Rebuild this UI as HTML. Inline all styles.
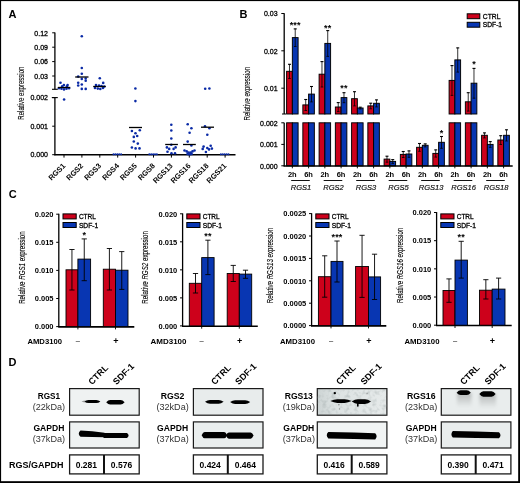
<!DOCTYPE html>
<html><head><meta charset="utf-8"><style>
html,body{margin:0;padding:0;background:#fff;}
svg{display:block;font-family:'Liberation Sans', sans-serif;filter:blur(0.25px);}
</style></head><body>
<svg width="520" height="483" viewBox="0 0 520 483">
<rect x="0" y="0" width="520" height="483" fill="#fff"/>
<text x="8.60" y="17.60" font-size="11" font-weight="bold" font-style="normal" text-anchor="start" fill="#000" >A</text>
<text x="239.60" y="17.60" font-size="11" font-weight="bold" font-style="normal" text-anchor="start" fill="#000" >B</text>
<text x="8.80" y="198.20" font-size="11" font-weight="bold" font-style="normal" text-anchor="start" fill="#000" >C</text>
<text x="8.60" y="366.40" font-size="11" font-weight="bold" font-style="normal" text-anchor="start" fill="#000" >D</text>
<line x1="54.90" y1="32.60" x2="54.90" y2="89.30" stroke="#000" stroke-width="1.3" />
<line x1="52.00" y1="89.30" x2="57.80" y2="89.30" stroke="#000" stroke-width="1.1" />
<line x1="52.20" y1="32.80" x2="54.90" y2="32.80" stroke="#000" stroke-width="1.0" />
<text x="48.00" y="35.55" font-size="7.8" font-weight="normal" font-style="normal" text-anchor="end" fill="#000" stroke="#000" stroke-width="0.3" textLength="13.66" lengthAdjust="spacingAndGlyphs">0.12</text>
<line x1="52.20" y1="47.20" x2="54.90" y2="47.20" stroke="#000" stroke-width="1.0" />
<text x="48.00" y="49.95" font-size="7.8" font-weight="normal" font-style="normal" text-anchor="end" fill="#000" stroke="#000" stroke-width="0.3" textLength="13.66" lengthAdjust="spacingAndGlyphs">0.09</text>
<line x1="52.20" y1="61.60" x2="54.90" y2="61.60" stroke="#000" stroke-width="1.0" />
<text x="48.00" y="64.35" font-size="7.8" font-weight="normal" font-style="normal" text-anchor="end" fill="#000" stroke="#000" stroke-width="0.3" textLength="13.66" lengthAdjust="spacingAndGlyphs">0.06</text>
<line x1="52.20" y1="76.00" x2="54.90" y2="76.00" stroke="#000" stroke-width="1.0" />
<text x="48.00" y="78.75" font-size="7.8" font-weight="normal" font-style="normal" text-anchor="end" fill="#000" stroke="#000" stroke-width="0.3" textLength="13.66" lengthAdjust="spacingAndGlyphs">0.03</text>
<line x1="54.90" y1="97.60" x2="54.90" y2="155.20" stroke="#000" stroke-width="1.3" />
<line x1="51.80" y1="97.60" x2="57.80" y2="97.60" stroke="#000" stroke-width="1.1" />
<line x1="52.20" y1="97.60" x2="54.90" y2="97.60" stroke="#000" stroke-width="1.0" />
<text x="48.00" y="100.35" font-size="7.8" font-weight="normal" font-style="normal" text-anchor="end" fill="#000" stroke="#000" stroke-width="0.3" textLength="17.56" lengthAdjust="spacingAndGlyphs">0.002</text>
<line x1="52.20" y1="126.20" x2="54.90" y2="126.20" stroke="#000" stroke-width="1.0" />
<text x="48.00" y="128.95" font-size="7.8" font-weight="normal" font-style="normal" text-anchor="end" fill="#000" stroke="#000" stroke-width="0.3" textLength="17.56" lengthAdjust="spacingAndGlyphs">0.001</text>
<line x1="52.20" y1="154.70" x2="54.90" y2="154.70" stroke="#000" stroke-width="1.0" />
<text x="48.00" y="157.45" font-size="7.8" font-weight="normal" font-style="normal" text-anchor="end" fill="#000" stroke="#000" stroke-width="0.3" textLength="17.56" lengthAdjust="spacingAndGlyphs">0.000</text>
<line x1="54.30" y1="154.80" x2="235.50" y2="154.80" stroke="#000" stroke-width="1.4" />
<line x1="64.00" y1="154.70" x2="64.00" y2="157.60" stroke="#000" stroke-width="1.0" />
<text x="65.90" y="166.40" font-size="7.5" font-weight="bold" font-style="normal" text-anchor="end" fill="#000" transform="rotate(-45 65.90 166.4)">RGS1</text>
<line x1="81.90" y1="154.70" x2="81.90" y2="157.60" stroke="#000" stroke-width="1.0" />
<text x="83.80" y="166.40" font-size="7.5" font-weight="bold" font-style="normal" text-anchor="end" fill="#000" transform="rotate(-45 83.80 166.4)">RGS2</text>
<line x1="99.80" y1="154.70" x2="99.80" y2="157.60" stroke="#000" stroke-width="1.0" />
<text x="101.70" y="166.40" font-size="7.5" font-weight="bold" font-style="normal" text-anchor="end" fill="#000" transform="rotate(-45 101.70 166.4)">RGS3</text>
<line x1="117.70" y1="154.70" x2="117.70" y2="157.60" stroke="#000" stroke-width="1.0" />
<text x="119.60" y="166.40" font-size="7.5" font-weight="bold" font-style="normal" text-anchor="end" fill="#000" transform="rotate(-45 119.60 166.4)">RGS4</text>
<line x1="135.60" y1="154.70" x2="135.60" y2="157.60" stroke="#000" stroke-width="1.0" />
<text x="137.50" y="166.40" font-size="7.5" font-weight="bold" font-style="normal" text-anchor="end" fill="#000" transform="rotate(-45 137.50 166.4)">RGS5</text>
<line x1="153.50" y1="154.70" x2="153.50" y2="157.60" stroke="#000" stroke-width="1.0" />
<text x="155.40" y="166.40" font-size="7.5" font-weight="bold" font-style="normal" text-anchor="end" fill="#000" transform="rotate(-45 155.40 166.4)">RGS8</text>
<line x1="171.40" y1="154.70" x2="171.40" y2="157.60" stroke="#000" stroke-width="1.0" />
<text x="173.30" y="166.40" font-size="7.5" font-weight="bold" font-style="normal" text-anchor="end" fill="#000" transform="rotate(-45 173.30 166.4)">RGS13</text>
<line x1="189.30" y1="154.70" x2="189.30" y2="157.60" stroke="#000" stroke-width="1.0" />
<text x="191.20" y="166.40" font-size="7.5" font-weight="bold" font-style="normal" text-anchor="end" fill="#000" transform="rotate(-45 191.20 166.4)">RGS16</text>
<line x1="207.20" y1="154.70" x2="207.20" y2="157.60" stroke="#000" stroke-width="1.0" />
<text x="209.10" y="166.40" font-size="7.5" font-weight="bold" font-style="normal" text-anchor="end" fill="#000" transform="rotate(-45 209.10 166.4)">RGS18</text>
<line x1="225.10" y1="154.70" x2="225.10" y2="157.60" stroke="#000" stroke-width="1.0" />
<text x="227.00" y="166.40" font-size="7.5" font-weight="bold" font-style="normal" text-anchor="end" fill="#000" transform="rotate(-45 227.00 166.4)">RGS21</text>
<text x="0.00" y="0.00" font-size="8.2" font-weight="normal" font-style="normal" text-anchor="middle" fill="#000" transform="translate(23.6 93.1) rotate(-90)" textLength="53.2" lengthAdjust="spacingAndGlyphs" stroke="#000" stroke-width="0.1">Relative expression</text>
<circle cx="60.50" cy="82.80" r="1.3" fill="#0a2aa6"/>
<circle cx="63.90" cy="85.00" r="1.3" fill="#0a2aa6"/>
<circle cx="67.60" cy="85.00" r="1.3" fill="#0a2aa6"/>
<circle cx="62.20" cy="86.20" r="1.3" fill="#0a2aa6"/>
<circle cx="66.90" cy="86.20" r="1.3" fill="#0a2aa6"/>
<circle cx="59.00" cy="88.30" r="1.3" fill="#0a2aa6"/>
<circle cx="61.50" cy="88.80" r="1.3" fill="#0a2aa6"/>
<circle cx="64.00" cy="89.40" r="1.3" fill="#0a2aa6"/>
<circle cx="66.50" cy="88.80" r="1.3" fill="#0a2aa6"/>
<circle cx="69.00" cy="88.30" r="1.3" fill="#0a2aa6"/>
<circle cx="64.10" cy="99.50" r="1.3" fill="#0a2aa6"/>
<circle cx="81.80" cy="36.30" r="1.3" fill="#0a2aa6"/>
<circle cx="81.80" cy="68.00" r="1.3" fill="#0a2aa6"/>
<circle cx="81.80" cy="73.70" r="1.3" fill="#0a2aa6"/>
<circle cx="78.20" cy="76.60" r="1.3" fill="#0a2aa6"/>
<circle cx="81.80" cy="78.90" r="1.3" fill="#0a2aa6"/>
<circle cx="85.70" cy="78.50" r="1.3" fill="#0a2aa6"/>
<circle cx="85.70" cy="80.80" r="1.3" fill="#0a2aa6"/>
<circle cx="78.20" cy="82.80" r="1.3" fill="#0a2aa6"/>
<circle cx="78.20" cy="85.50" r="1.3" fill="#0a2aa6"/>
<circle cx="81.80" cy="84.50" r="1.3" fill="#0a2aa6"/>
<circle cx="81.80" cy="88.90" r="1.3" fill="#0a2aa6"/>
<circle cx="85.70" cy="88.90" r="1.3" fill="#0a2aa6"/>
<circle cx="99.80" cy="78.20" r="1.3" fill="#0a2aa6"/>
<circle cx="103.20" cy="82.90" r="1.3" fill="#0a2aa6"/>
<circle cx="96.00" cy="85.00" r="1.3" fill="#0a2aa6"/>
<circle cx="99.00" cy="85.50" r="1.3" fill="#0a2aa6"/>
<circle cx="101.50" cy="86.00" r="1.3" fill="#0a2aa6"/>
<circle cx="95.00" cy="88.00" r="1.3" fill="#0a2aa6"/>
<circle cx="97.80" cy="88.60" r="1.3" fill="#0a2aa6"/>
<circle cx="100.30" cy="89.00" r="1.3" fill="#0a2aa6"/>
<circle cx="103.00" cy="88.00" r="1.3" fill="#0a2aa6"/>
<circle cx="104.30" cy="86.50" r="1.3" fill="#0a2aa6"/>
<circle cx="135.40" cy="88.50" r="1.3" fill="#0a2aa6"/>
<circle cx="135.40" cy="101.10" r="1.3" fill="#0a2aa6"/>
<circle cx="131.90" cy="131.00" r="1.3" fill="#0a2aa6"/>
<circle cx="139.80" cy="130.20" r="1.3" fill="#0a2aa6"/>
<circle cx="135.50" cy="133.20" r="1.3" fill="#0a2aa6"/>
<circle cx="133.80" cy="136.90" r="1.3" fill="#0a2aa6"/>
<circle cx="137.20" cy="136.00" r="1.3" fill="#0a2aa6"/>
<circle cx="133.80" cy="141.50" r="1.3" fill="#0a2aa6"/>
<circle cx="137.80" cy="143.60" r="1.3" fill="#0a2aa6"/>
<circle cx="131.90" cy="147.50" r="1.3" fill="#0a2aa6"/>
<circle cx="135.60" cy="148.40" r="1.3" fill="#0a2aa6"/>
<circle cx="139.50" cy="148.40" r="1.3" fill="#0a2aa6"/>
<circle cx="171.30" cy="124.70" r="1.3" fill="#0a2aa6"/>
<circle cx="171.30" cy="130.50" r="1.3" fill="#0a2aa6"/>
<circle cx="171.30" cy="138.50" r="1.3" fill="#0a2aa6"/>
<circle cx="171.30" cy="144.80" r="1.3" fill="#0a2aa6"/>
<circle cx="166.90" cy="147.40" r="1.3" fill="#0a2aa6"/>
<circle cx="175.60" cy="147.40" r="1.3" fill="#0a2aa6"/>
<circle cx="169.20" cy="148.90" r="1.3" fill="#0a2aa6"/>
<circle cx="173.60" cy="148.90" r="1.3" fill="#0a2aa6"/>
<circle cx="167.50" cy="151.70" r="1.3" fill="#0a2aa6"/>
<circle cx="171.50" cy="153.20" r="1.3" fill="#0a2aa6"/>
<circle cx="175.00" cy="153.20" r="1.3" fill="#0a2aa6"/>
<circle cx="187.70" cy="124.30" r="1.3" fill="#0a2aa6"/>
<circle cx="191.40" cy="128.20" r="1.3" fill="#0a2aa6"/>
<circle cx="189.60" cy="132.80" r="1.3" fill="#0a2aa6"/>
<circle cx="187.70" cy="141.60" r="1.3" fill="#0a2aa6"/>
<circle cx="191.40" cy="145.50" r="1.3" fill="#0a2aa6"/>
<circle cx="184.50" cy="150.50" r="1.3" fill="#0a2aa6"/>
<circle cx="186.70" cy="151.40" r="1.3" fill="#0a2aa6"/>
<circle cx="188.60" cy="152.60" r="1.3" fill="#0a2aa6"/>
<circle cx="190.60" cy="152.60" r="1.3" fill="#0a2aa6"/>
<circle cx="192.50" cy="151.40" r="1.3" fill="#0a2aa6"/>
<circle cx="194.50" cy="150.50" r="1.3" fill="#0a2aa6"/>
<circle cx="189.60" cy="154.40" r="1.3" fill="#0a2aa6"/>
<circle cx="187.60" cy="153.90" r="1.3" fill="#0a2aa6"/>
<circle cx="191.60" cy="153.90" r="1.3" fill="#0a2aa6"/>
<circle cx="205.20" cy="88.80" r="1.3" fill="#0a2aa6"/>
<circle cx="209.40" cy="88.50" r="1.3" fill="#0a2aa6"/>
<circle cx="205.00" cy="126.30" r="1.3" fill="#0a2aa6"/>
<circle cx="209.40" cy="128.20" r="1.3" fill="#0a2aa6"/>
<circle cx="207.30" cy="134.70" r="1.3" fill="#0a2aa6"/>
<circle cx="203.60" cy="146.60" r="1.3" fill="#0a2aa6"/>
<circle cx="210.70" cy="145.70" r="1.3" fill="#0a2aa6"/>
<circle cx="202.70" cy="148.90" r="1.3" fill="#0a2aa6"/>
<circle cx="207.30" cy="148.00" r="1.3" fill="#0a2aa6"/>
<circle cx="209.00" cy="149.40" r="1.3" fill="#0a2aa6"/>
<circle cx="211.90" cy="148.60" r="1.3" fill="#0a2aa6"/>
<circle cx="205.90" cy="152.00" r="1.3" fill="#0a2aa6"/>
<circle cx="113.50" cy="154.30" r="1.0" fill="#0a2aa6"/>
<circle cx="115.40" cy="154.30" r="1.0" fill="#0a2aa6"/>
<circle cx="117.30" cy="154.30" r="1.0" fill="#0a2aa6"/>
<circle cx="119.20" cy="154.30" r="1.0" fill="#0a2aa6"/>
<circle cx="121.10" cy="154.30" r="1.0" fill="#0a2aa6"/>
<circle cx="149.30" cy="154.30" r="1.0" fill="#0a2aa6"/>
<circle cx="151.20" cy="154.30" r="1.0" fill="#0a2aa6"/>
<circle cx="153.10" cy="154.30" r="1.0" fill="#0a2aa6"/>
<circle cx="155.00" cy="154.30" r="1.0" fill="#0a2aa6"/>
<circle cx="156.90" cy="154.30" r="1.0" fill="#0a2aa6"/>
<circle cx="220.90" cy="154.30" r="1.0" fill="#0a2aa6"/>
<circle cx="222.80" cy="154.30" r="1.0" fill="#0a2aa6"/>
<circle cx="224.70" cy="154.30" r="1.0" fill="#0a2aa6"/>
<circle cx="226.60" cy="154.30" r="1.0" fill="#0a2aa6"/>
<circle cx="228.50" cy="154.30" r="1.0" fill="#0a2aa6"/>
<line x1="57.80" y1="87.50" x2="70.30" y2="87.50" stroke="#000" stroke-width="1.3" />
<line x1="75.20" y1="77.00" x2="88.50" y2="77.00" stroke="#000" stroke-width="1.3" />
<line x1="93.20" y1="86.50" x2="105.80" y2="86.50" stroke="#000" stroke-width="1.3" />
<line x1="129.00" y1="127.50" x2="142.00" y2="127.50" stroke="#000" stroke-width="1.3" />
<line x1="165.20" y1="144.50" x2="177.90" y2="144.50" stroke="#000" stroke-width="1.3" />
<line x1="183.00" y1="144.50" x2="195.80" y2="144.50" stroke="#000" stroke-width="1.3" />
<line x1="201.00" y1="127.20" x2="214.00" y2="127.20" stroke="#000" stroke-width="1.3" />
<line x1="284.20" y1="13.30" x2="284.20" y2="114.00" stroke="#000" stroke-width="1.3" />
<line x1="282.00" y1="114.00" x2="286.00" y2="114.00" stroke="#000" stroke-width="1.0" />
<line x1="284.20" y1="122.80" x2="284.20" y2="166.30" stroke="#000" stroke-width="1.3" />
<line x1="281.30" y1="13.50" x2="284.20" y2="13.50" stroke="#000" stroke-width="1.0" />
<text x="277.60" y="16.25" font-size="7.8" font-weight="normal" font-style="normal" text-anchor="end" fill="#000" stroke="#000" stroke-width="0.3" textLength="13.66" lengthAdjust="spacingAndGlyphs">0.03</text>
<line x1="281.30" y1="50.80" x2="284.20" y2="50.80" stroke="#000" stroke-width="1.0" />
<text x="277.60" y="53.55" font-size="7.8" font-weight="normal" font-style="normal" text-anchor="end" fill="#000" stroke="#000" stroke-width="0.3" textLength="13.66" lengthAdjust="spacingAndGlyphs">0.02</text>
<line x1="281.30" y1="88.20" x2="284.20" y2="88.20" stroke="#000" stroke-width="1.0" />
<text x="277.60" y="90.95" font-size="7.8" font-weight="normal" font-style="normal" text-anchor="end" fill="#000" stroke="#000" stroke-width="0.3" textLength="13.66" lengthAdjust="spacingAndGlyphs">0.01</text>
<line x1="281.30" y1="122.80" x2="284.20" y2="122.80" stroke="#000" stroke-width="1.0" />
<text x="277.60" y="125.55" font-size="7.8" font-weight="normal" font-style="normal" text-anchor="end" fill="#000" stroke="#000" stroke-width="0.3" textLength="17.56" lengthAdjust="spacingAndGlyphs">0.002</text>
<line x1="281.30" y1="144.40" x2="284.20" y2="144.40" stroke="#000" stroke-width="1.0" />
<text x="277.60" y="147.15" font-size="7.8" font-weight="normal" font-style="normal" text-anchor="end" fill="#000" stroke="#000" stroke-width="0.3" textLength="17.56" lengthAdjust="spacingAndGlyphs">0.001</text>
<line x1="281.30" y1="165.80" x2="284.20" y2="165.80" stroke="#000" stroke-width="1.0" />
<text x="277.60" y="168.55" font-size="7.8" font-weight="normal" font-style="normal" text-anchor="end" fill="#000" stroke="#000" stroke-width="0.3" textLength="17.56" lengthAdjust="spacingAndGlyphs">0.000</text>
<text x="0.00" y="0.00" font-size="8.2" font-weight="normal" font-style="normal" text-anchor="middle" fill="#000" transform="translate(250.1 93.7) rotate(-90)" textLength="53.7" lengthAdjust="spacingAndGlyphs" stroke="#000" stroke-width="0.1">Relative expression</text>
<rect x="286.60" y="71.30" width="5.75" height="42.70" fill="#cd011b" stroke="#000" stroke-width="0.95" />
<rect x="286.60" y="122.80" width="5.75" height="43.00" fill="#cd011b" stroke="#000" stroke-width="0.95" />
<line x1="289.48" y1="64.10" x2="289.48" y2="78.50" stroke="#000" stroke-width="0.8" />
<line x1="287.98" y1="64.30" x2="290.98" y2="64.30" stroke="#000" stroke-width="1.1" />
<line x1="288.18" y1="78.50" x2="290.78" y2="78.50" stroke="#000" stroke-width="0.8" />
<rect x="292.35" y="37.60" width="5.75" height="76.40" fill="#0836b2" stroke="#000" stroke-width="0.95" />
<rect x="292.35" y="122.80" width="5.75" height="43.00" fill="#0836b2" stroke="#000" stroke-width="0.95" />
<line x1="295.23" y1="28.70" x2="295.23" y2="46.50" stroke="#000" stroke-width="0.8" />
<line x1="293.73" y1="28.90" x2="296.73" y2="28.90" stroke="#000" stroke-width="1.1" />
<line x1="293.93" y1="46.50" x2="296.53" y2="46.50" stroke="#000" stroke-width="0.8" />
<line x1="292.35" y1="165.80" x2="292.35" y2="168.30" stroke="#000" stroke-width="0.9" />
<text x="292.35" y="177.00" font-size="7.5" font-weight="bold" font-style="normal" text-anchor="middle" fill="#000" >2h</text>
<text x="295.23" y="28.00" font-size="9" font-weight="bold" font-style="normal" text-anchor="middle" fill="#000" letter-spacing="0.2">***</text>
<rect x="302.85" y="104.90" width="5.75" height="9.10" fill="#cd011b" stroke="#000" stroke-width="0.95" />
<rect x="302.85" y="122.80" width="5.75" height="43.00" fill="#cd011b" stroke="#000" stroke-width="0.95" />
<line x1="305.73" y1="99.30" x2="305.73" y2="110.50" stroke="#000" stroke-width="0.8" />
<line x1="304.23" y1="99.50" x2="307.23" y2="99.50" stroke="#000" stroke-width="1.1" />
<line x1="304.43" y1="110.50" x2="307.03" y2="110.50" stroke="#000" stroke-width="0.8" />
<rect x="308.60" y="94.10" width="5.75" height="19.90" fill="#0836b2" stroke="#000" stroke-width="0.95" />
<rect x="308.60" y="122.80" width="5.75" height="43.00" fill="#0836b2" stroke="#000" stroke-width="0.95" />
<line x1="311.48" y1="86.30" x2="311.48" y2="101.90" stroke="#000" stroke-width="0.8" />
<line x1="309.98" y1="86.50" x2="312.98" y2="86.50" stroke="#000" stroke-width="1.1" />
<line x1="310.18" y1="101.90" x2="312.78" y2="101.90" stroke="#000" stroke-width="0.8" />
<line x1="308.60" y1="165.80" x2="308.60" y2="168.30" stroke="#000" stroke-width="0.9" />
<text x="308.60" y="177.00" font-size="7.5" font-weight="bold" font-style="normal" text-anchor="middle" fill="#000" >6h</text>
<rect x="319.10" y="74.20" width="5.75" height="39.80" fill="#cd011b" stroke="#000" stroke-width="0.95" />
<rect x="319.10" y="122.80" width="5.75" height="43.00" fill="#cd011b" stroke="#000" stroke-width="0.95" />
<line x1="321.98" y1="61.40" x2="321.98" y2="87.00" stroke="#000" stroke-width="0.8" />
<line x1="320.48" y1="61.60" x2="323.48" y2="61.60" stroke="#000" stroke-width="1.1" />
<line x1="320.68" y1="87.00" x2="323.28" y2="87.00" stroke="#000" stroke-width="0.8" />
<rect x="324.85" y="43.40" width="5.75" height="70.60" fill="#0836b2" stroke="#000" stroke-width="0.95" />
<rect x="324.85" y="122.80" width="5.75" height="43.00" fill="#0836b2" stroke="#000" stroke-width="0.95" />
<line x1="327.73" y1="30.40" x2="327.73" y2="56.40" stroke="#000" stroke-width="0.8" />
<line x1="326.23" y1="30.60" x2="329.23" y2="30.60" stroke="#000" stroke-width="1.1" />
<line x1="326.43" y1="56.40" x2="329.03" y2="56.40" stroke="#000" stroke-width="0.8" />
<line x1="324.85" y1="165.80" x2="324.85" y2="168.30" stroke="#000" stroke-width="0.9" />
<text x="324.85" y="177.00" font-size="7.5" font-weight="bold" font-style="normal" text-anchor="middle" fill="#000" >2h</text>
<text x="327.73" y="30.50" font-size="9" font-weight="bold" font-style="normal" text-anchor="middle" fill="#000" letter-spacing="0.2">**</text>
<rect x="335.35" y="107.00" width="5.75" height="7.00" fill="#cd011b" stroke="#000" stroke-width="0.95" />
<rect x="335.35" y="122.80" width="5.75" height="43.00" fill="#cd011b" stroke="#000" stroke-width="0.95" />
<line x1="338.23" y1="102.40" x2="338.23" y2="111.60" stroke="#000" stroke-width="0.8" />
<line x1="336.73" y1="102.60" x2="339.73" y2="102.60" stroke="#000" stroke-width="1.1" />
<line x1="336.93" y1="111.60" x2="339.53" y2="111.60" stroke="#000" stroke-width="0.8" />
<rect x="341.10" y="97.60" width="5.75" height="16.40" fill="#0836b2" stroke="#000" stroke-width="0.95" />
<rect x="341.10" y="122.80" width="5.75" height="43.00" fill="#0836b2" stroke="#000" stroke-width="0.95" />
<line x1="343.98" y1="92.50" x2="343.98" y2="102.70" stroke="#000" stroke-width="0.8" />
<line x1="342.48" y1="92.70" x2="345.48" y2="92.70" stroke="#000" stroke-width="1.1" />
<line x1="342.68" y1="102.70" x2="345.28" y2="102.70" stroke="#000" stroke-width="0.8" />
<line x1="341.10" y1="165.80" x2="341.10" y2="168.30" stroke="#000" stroke-width="0.9" />
<text x="341.10" y="177.00" font-size="7.5" font-weight="bold" font-style="normal" text-anchor="middle" fill="#000" >6h</text>
<text x="343.98" y="91.00" font-size="9" font-weight="bold" font-style="normal" text-anchor="middle" fill="#000" letter-spacing="0.2">**</text>
<rect x="351.60" y="98.70" width="5.75" height="15.30" fill="#cd011b" stroke="#000" stroke-width="0.95" />
<rect x="351.60" y="122.80" width="5.75" height="43.00" fill="#cd011b" stroke="#000" stroke-width="0.95" />
<line x1="354.48" y1="91.50" x2="354.48" y2="105.90" stroke="#000" stroke-width="0.8" />
<line x1="352.98" y1="91.70" x2="355.98" y2="91.70" stroke="#000" stroke-width="1.1" />
<line x1="353.18" y1="105.90" x2="355.78" y2="105.90" stroke="#000" stroke-width="0.8" />
<rect x="357.35" y="108.00" width="5.75" height="6.00" fill="#0836b2" stroke="#000" stroke-width="0.95" />
<rect x="357.35" y="122.80" width="5.75" height="43.00" fill="#0836b2" stroke="#000" stroke-width="0.95" />
<line x1="360.23" y1="107.00" x2="360.23" y2="109.00" stroke="#000" stroke-width="0.8" />
<line x1="358.73" y1="107.20" x2="361.73" y2="107.20" stroke="#000" stroke-width="1.1" />
<line x1="358.93" y1="109.00" x2="361.53" y2="109.00" stroke="#000" stroke-width="0.8" />
<line x1="357.35" y1="165.80" x2="357.35" y2="168.30" stroke="#000" stroke-width="0.9" />
<text x="357.35" y="177.00" font-size="7.5" font-weight="bold" font-style="normal" text-anchor="middle" fill="#000" >2h</text>
<rect x="367.85" y="105.90" width="5.75" height="8.10" fill="#cd011b" stroke="#000" stroke-width="0.95" />
<rect x="367.85" y="122.80" width="5.75" height="43.00" fill="#cd011b" stroke="#000" stroke-width="0.95" />
<line x1="370.73" y1="103.00" x2="370.73" y2="108.80" stroke="#000" stroke-width="0.8" />
<line x1="369.23" y1="103.20" x2="372.23" y2="103.20" stroke="#000" stroke-width="1.1" />
<line x1="369.43" y1="108.80" x2="372.03" y2="108.80" stroke="#000" stroke-width="0.8" />
<rect x="373.60" y="103.30" width="5.75" height="10.70" fill="#0836b2" stroke="#000" stroke-width="0.95" />
<rect x="373.60" y="122.80" width="5.75" height="43.00" fill="#0836b2" stroke="#000" stroke-width="0.95" />
<line x1="376.48" y1="99.70" x2="376.48" y2="106.90" stroke="#000" stroke-width="0.8" />
<line x1="374.98" y1="99.90" x2="377.98" y2="99.90" stroke="#000" stroke-width="1.1" />
<line x1="375.18" y1="106.90" x2="377.78" y2="106.90" stroke="#000" stroke-width="0.8" />
<line x1="373.60" y1="165.80" x2="373.60" y2="168.30" stroke="#000" stroke-width="0.9" />
<text x="373.60" y="177.00" font-size="7.5" font-weight="bold" font-style="normal" text-anchor="middle" fill="#000" >6h</text>
<rect x="384.10" y="159.10" width="5.75" height="6.70" fill="#cd011b" stroke="#000" stroke-width="0.95" />
<line x1="386.98" y1="156.00" x2="386.98" y2="162.20" stroke="#000" stroke-width="0.8" />
<line x1="385.48" y1="156.20" x2="388.48" y2="156.20" stroke="#000" stroke-width="1.1" />
<line x1="385.68" y1="162.20" x2="388.28" y2="162.20" stroke="#000" stroke-width="0.8" />
<rect x="389.85" y="161.40" width="5.75" height="4.40" fill="#0836b2" stroke="#000" stroke-width="0.95" />
<line x1="392.73" y1="159.40" x2="392.73" y2="163.40" stroke="#000" stroke-width="0.8" />
<line x1="391.23" y1="159.60" x2="394.23" y2="159.60" stroke="#000" stroke-width="1.1" />
<line x1="391.43" y1="163.40" x2="394.03" y2="163.40" stroke="#000" stroke-width="0.8" />
<line x1="389.85" y1="165.80" x2="389.85" y2="168.30" stroke="#000" stroke-width="0.9" />
<text x="389.85" y="177.00" font-size="7.5" font-weight="bold" font-style="normal" text-anchor="middle" fill="#000" >2h</text>
<rect x="400.35" y="154.40" width="5.75" height="11.40" fill="#cd011b" stroke="#000" stroke-width="0.95" />
<line x1="403.23" y1="151.30" x2="403.23" y2="157.50" stroke="#000" stroke-width="0.8" />
<line x1="401.73" y1="151.50" x2="404.73" y2="151.50" stroke="#000" stroke-width="1.1" />
<line x1="401.93" y1="157.50" x2="404.53" y2="157.50" stroke="#000" stroke-width="0.8" />
<rect x="406.10" y="154.00" width="5.75" height="11.80" fill="#0836b2" stroke="#000" stroke-width="0.95" />
<line x1="408.98" y1="150.70" x2="408.98" y2="157.30" stroke="#000" stroke-width="0.8" />
<line x1="407.48" y1="150.90" x2="410.48" y2="150.90" stroke="#000" stroke-width="1.1" />
<line x1="407.68" y1="157.30" x2="410.28" y2="157.30" stroke="#000" stroke-width="0.8" />
<line x1="406.10" y1="165.80" x2="406.10" y2="168.30" stroke="#000" stroke-width="0.9" />
<text x="406.10" y="177.00" font-size="7.5" font-weight="bold" font-style="normal" text-anchor="middle" fill="#000" >6h</text>
<rect x="416.60" y="147.30" width="5.75" height="18.50" fill="#cd011b" stroke="#000" stroke-width="0.95" />
<line x1="419.48" y1="143.30" x2="419.48" y2="151.30" stroke="#000" stroke-width="0.8" />
<line x1="417.98" y1="143.50" x2="420.98" y2="143.50" stroke="#000" stroke-width="1.1" />
<line x1="418.18" y1="151.30" x2="420.78" y2="151.30" stroke="#000" stroke-width="0.8" />
<rect x="422.35" y="145.30" width="5.75" height="20.50" fill="#0836b2" stroke="#000" stroke-width="0.95" />
<line x1="425.23" y1="143.70" x2="425.23" y2="146.90" stroke="#000" stroke-width="0.8" />
<line x1="423.73" y1="143.90" x2="426.73" y2="143.90" stroke="#000" stroke-width="1.1" />
<line x1="423.93" y1="146.90" x2="426.53" y2="146.90" stroke="#000" stroke-width="0.8" />
<line x1="422.35" y1="165.80" x2="422.35" y2="168.30" stroke="#000" stroke-width="0.9" />
<text x="422.35" y="177.00" font-size="7.5" font-weight="bold" font-style="normal" text-anchor="middle" fill="#000" >2h</text>
<rect x="432.85" y="153.40" width="5.75" height="12.40" fill="#cd011b" stroke="#000" stroke-width="0.95" />
<line x1="435.73" y1="149.70" x2="435.73" y2="157.10" stroke="#000" stroke-width="0.8" />
<line x1="434.23" y1="149.90" x2="437.23" y2="149.90" stroke="#000" stroke-width="1.1" />
<line x1="434.43" y1="157.10" x2="437.03" y2="157.10" stroke="#000" stroke-width="0.8" />
<rect x="438.60" y="142.30" width="5.75" height="23.50" fill="#0836b2" stroke="#000" stroke-width="0.95" />
<line x1="441.48" y1="136.30" x2="441.48" y2="148.30" stroke="#000" stroke-width="0.8" />
<line x1="439.98" y1="136.50" x2="442.98" y2="136.50" stroke="#000" stroke-width="1.1" />
<line x1="440.18" y1="148.30" x2="442.78" y2="148.30" stroke="#000" stroke-width="0.8" />
<line x1="438.60" y1="165.80" x2="438.60" y2="168.30" stroke="#000" stroke-width="0.9" />
<text x="438.60" y="177.00" font-size="7.5" font-weight="bold" font-style="normal" text-anchor="middle" fill="#000" >6h</text>
<text x="441.48" y="135.50" font-size="9" font-weight="bold" font-style="normal" text-anchor="middle" fill="#000" letter-spacing="0.2">*</text>
<rect x="449.10" y="80.40" width="5.75" height="33.60" fill="#cd011b" stroke="#000" stroke-width="0.95" />
<rect x="449.10" y="122.80" width="5.75" height="43.00" fill="#cd011b" stroke="#000" stroke-width="0.95" />
<line x1="451.98" y1="65.40" x2="451.98" y2="95.40" stroke="#000" stroke-width="0.8" />
<line x1="450.48" y1="65.60" x2="453.48" y2="65.60" stroke="#000" stroke-width="1.1" />
<line x1="450.68" y1="95.40" x2="453.28" y2="95.40" stroke="#000" stroke-width="0.8" />
<rect x="454.85" y="59.90" width="5.75" height="54.10" fill="#0836b2" stroke="#000" stroke-width="0.95" />
<rect x="454.85" y="122.80" width="5.75" height="43.00" fill="#0836b2" stroke="#000" stroke-width="0.95" />
<line x1="457.73" y1="47.70" x2="457.73" y2="72.10" stroke="#000" stroke-width="0.8" />
<line x1="456.23" y1="47.90" x2="459.23" y2="47.90" stroke="#000" stroke-width="1.1" />
<line x1="456.43" y1="72.10" x2="459.03" y2="72.10" stroke="#000" stroke-width="0.8" />
<line x1="454.85" y1="165.80" x2="454.85" y2="168.30" stroke="#000" stroke-width="0.9" />
<text x="454.85" y="177.00" font-size="7.5" font-weight="bold" font-style="normal" text-anchor="middle" fill="#000" >2h</text>
<rect x="465.35" y="101.80" width="5.75" height="12.20" fill="#cd011b" stroke="#000" stroke-width="0.95" />
<rect x="465.35" y="122.80" width="5.75" height="43.00" fill="#cd011b" stroke="#000" stroke-width="0.95" />
<line x1="468.23" y1="92.50" x2="468.23" y2="111.10" stroke="#000" stroke-width="0.8" />
<line x1="466.73" y1="92.70" x2="469.73" y2="92.70" stroke="#000" stroke-width="1.1" />
<line x1="466.93" y1="111.10" x2="469.53" y2="111.10" stroke="#000" stroke-width="0.8" />
<rect x="471.10" y="83.20" width="5.75" height="30.80" fill="#0836b2" stroke="#000" stroke-width="0.95" />
<rect x="471.10" y="122.80" width="5.75" height="43.00" fill="#0836b2" stroke="#000" stroke-width="0.95" />
<line x1="473.98" y1="68.20" x2="473.98" y2="98.20" stroke="#000" stroke-width="0.8" />
<line x1="472.48" y1="68.40" x2="475.48" y2="68.40" stroke="#000" stroke-width="1.1" />
<line x1="472.68" y1="98.20" x2="475.28" y2="98.20" stroke="#000" stroke-width="0.8" />
<line x1="471.10" y1="165.80" x2="471.10" y2="168.30" stroke="#000" stroke-width="0.9" />
<text x="471.10" y="177.00" font-size="7.5" font-weight="bold" font-style="normal" text-anchor="middle" fill="#000" >6h</text>
<text x="473.98" y="66.90" font-size="9" font-weight="bold" font-style="normal" text-anchor="middle" fill="#000" letter-spacing="0.2">*</text>
<rect x="481.60" y="135.30" width="5.75" height="30.50" fill="#cd011b" stroke="#000" stroke-width="0.95" />
<line x1="484.48" y1="132.70" x2="484.48" y2="137.90" stroke="#000" stroke-width="0.8" />
<line x1="482.98" y1="132.90" x2="485.98" y2="132.90" stroke="#000" stroke-width="1.1" />
<line x1="483.18" y1="137.90" x2="485.78" y2="137.90" stroke="#000" stroke-width="0.8" />
<rect x="487.35" y="144.40" width="5.75" height="21.40" fill="#0836b2" stroke="#000" stroke-width="0.95" />
<line x1="490.23" y1="141.40" x2="490.23" y2="147.40" stroke="#000" stroke-width="0.8" />
<line x1="488.73" y1="141.60" x2="491.73" y2="141.60" stroke="#000" stroke-width="1.1" />
<line x1="488.93" y1="147.40" x2="491.53" y2="147.40" stroke="#000" stroke-width="0.8" />
<line x1="487.35" y1="165.80" x2="487.35" y2="168.30" stroke="#000" stroke-width="0.9" />
<text x="487.35" y="177.00" font-size="7.5" font-weight="bold" font-style="normal" text-anchor="middle" fill="#000" >2h</text>
<rect x="497.85" y="140.00" width="5.75" height="25.80" fill="#cd011b" stroke="#000" stroke-width="0.95" />
<line x1="500.73" y1="135.50" x2="500.73" y2="144.50" stroke="#000" stroke-width="0.8" />
<line x1="499.23" y1="135.70" x2="502.23" y2="135.70" stroke="#000" stroke-width="1.1" />
<line x1="499.43" y1="144.50" x2="502.03" y2="144.50" stroke="#000" stroke-width="0.8" />
<rect x="503.60" y="135.30" width="5.75" height="30.50" fill="#0836b2" stroke="#000" stroke-width="0.95" />
<line x1="506.48" y1="129.60" x2="506.48" y2="141.00" stroke="#000" stroke-width="0.8" />
<line x1="504.98" y1="129.80" x2="507.98" y2="129.80" stroke="#000" stroke-width="1.1" />
<line x1="505.18" y1="141.00" x2="507.78" y2="141.00" stroke="#000" stroke-width="0.8" />
<line x1="503.60" y1="165.80" x2="503.60" y2="168.30" stroke="#000" stroke-width="0.9" />
<text x="503.60" y="177.00" font-size="7.5" font-weight="bold" font-style="normal" text-anchor="middle" fill="#000" >6h</text>
<line x1="283.60" y1="166.00" x2="512.70" y2="166.00" stroke="#000" stroke-width="1.5" />
<line x1="291.18" y1="180.50" x2="309.78" y2="180.50" stroke="#111" stroke-width="1.0" />
<text x="301.08" y="190.30" font-size="7.5" font-weight="normal" font-style="italic" text-anchor="middle" fill="#111" stroke="#111" stroke-width="0.18">RGS1</text>
<line x1="323.68" y1="180.50" x2="342.28" y2="180.50" stroke="#111" stroke-width="1.0" />
<text x="333.58" y="190.30" font-size="7.5" font-weight="normal" font-style="italic" text-anchor="middle" fill="#111" stroke="#111" stroke-width="0.18">RGS2</text>
<line x1="356.18" y1="180.50" x2="374.78" y2="180.50" stroke="#111" stroke-width="1.0" />
<text x="366.08" y="190.30" font-size="7.5" font-weight="normal" font-style="italic" text-anchor="middle" fill="#111" stroke="#111" stroke-width="0.18">RGS3</text>
<line x1="388.68" y1="180.50" x2="407.28" y2="180.50" stroke="#111" stroke-width="1.0" />
<text x="398.58" y="190.30" font-size="7.5" font-weight="normal" font-style="italic" text-anchor="middle" fill="#111" stroke="#111" stroke-width="0.18">RGS5</text>
<line x1="421.18" y1="180.50" x2="439.78" y2="180.50" stroke="#111" stroke-width="1.0" />
<text x="431.08" y="190.30" font-size="7.5" font-weight="normal" font-style="italic" text-anchor="middle" fill="#111" stroke="#111" stroke-width="0.18">RGS13</text>
<line x1="453.68" y1="180.50" x2="472.28" y2="180.50" stroke="#111" stroke-width="1.0" />
<text x="463.58" y="190.30" font-size="7.5" font-weight="normal" font-style="italic" text-anchor="middle" fill="#111" stroke="#111" stroke-width="0.18">RGS16</text>
<line x1="486.18" y1="180.50" x2="504.78" y2="180.50" stroke="#111" stroke-width="1.0" />
<text x="496.08" y="190.30" font-size="7.5" font-weight="normal" font-style="italic" text-anchor="middle" fill="#111" stroke="#111" stroke-width="0.18">RGS18</text>
<rect x="467.20" y="13.80" width="12.60" height="4.90" fill="#cd011b" stroke="#000" stroke-width="1.0" />
<rect x="467.20" y="22.30" width="12.60" height="4.90" fill="#0836b2" stroke="#000" stroke-width="1.0" />
<text x="482.80" y="18.80" font-size="7.3" font-weight="normal" font-style="normal" text-anchor="start" fill="#000" stroke="#000" stroke-width="0.3" textLength="17.6" lengthAdjust="spacingAndGlyphs">CTRL</text>
<text x="482.80" y="27.20" font-size="7.3" font-weight="normal" font-style="normal" text-anchor="start" fill="#000" stroke="#000" stroke-width="0.3" textLength="19.3" lengthAdjust="spacingAndGlyphs">SDF-1</text>
<line x1="58.80" y1="213.80" x2="58.80" y2="327.10" stroke="#000" stroke-width="1.3" />
<line x1="56.20" y1="326.60" x2="58.80" y2="326.60" stroke="#000" stroke-width="1.0" />
<text x="53.50" y="329.30" font-size="7.5" font-weight="bold" font-style="normal" text-anchor="end" fill="#000" >0.000</text>
<line x1="56.20" y1="298.50" x2="58.80" y2="298.50" stroke="#000" stroke-width="1.0" />
<text x="53.50" y="301.20" font-size="7.5" font-weight="bold" font-style="normal" text-anchor="end" fill="#000" >0.005</text>
<line x1="56.20" y1="270.40" x2="58.80" y2="270.40" stroke="#000" stroke-width="1.0" />
<text x="53.50" y="273.10" font-size="7.5" font-weight="bold" font-style="normal" text-anchor="end" fill="#000" >0.010</text>
<line x1="56.20" y1="242.30" x2="58.80" y2="242.30" stroke="#000" stroke-width="1.0" />
<text x="53.50" y="245.00" font-size="7.5" font-weight="bold" font-style="normal" text-anchor="end" fill="#000" >0.015</text>
<line x1="56.20" y1="214.20" x2="58.80" y2="214.20" stroke="#000" stroke-width="1.0" />
<text x="53.50" y="216.90" font-size="7.5" font-weight="bold" font-style="normal" text-anchor="end" fill="#000" >0.020</text>
<line x1="58.20" y1="326.90" x2="134.30" y2="326.90" stroke="#000" stroke-width="1.6" />
<rect x="66.00" y="269.80" width="11.90" height="56.80" fill="#cd011b" stroke="#000" stroke-width="0.9" />
<line x1="71.95" y1="249.50" x2="71.95" y2="290.00" stroke="#000" stroke-width="0.9" />
<line x1="69.35" y1="249.50" x2="74.55" y2="249.50" stroke="#000" stroke-width="0.9" />
<line x1="69.35" y1="290.00" x2="74.55" y2="290.00" stroke="#000" stroke-width="0.9" />
<rect x="77.90" y="259.10" width="12.70" height="67.50" fill="#0836b2" stroke="#000" stroke-width="0.9" />
<line x1="84.25" y1="238.90" x2="84.25" y2="280.70" stroke="#000" stroke-width="0.9" />
<line x1="81.65" y1="238.90" x2="86.85" y2="238.90" stroke="#000" stroke-width="0.9" />
<line x1="81.65" y1="280.70" x2="86.85" y2="280.70" stroke="#000" stroke-width="0.9" />
<rect x="103.30" y="269.20" width="12.20" height="57.40" fill="#cd011b" stroke="#000" stroke-width="0.9" />
<line x1="109.40" y1="248.50" x2="109.40" y2="290.00" stroke="#000" stroke-width="0.9" />
<line x1="106.80" y1="248.50" x2="112.00" y2="248.50" stroke="#000" stroke-width="0.9" />
<line x1="106.80" y1="290.00" x2="112.00" y2="290.00" stroke="#000" stroke-width="0.9" />
<rect x="115.50" y="270.20" width="12.50" height="56.40" fill="#0836b2" stroke="#000" stroke-width="0.9" />
<line x1="121.75" y1="251.60" x2="121.75" y2="289.40" stroke="#000" stroke-width="0.9" />
<line x1="119.15" y1="251.60" x2="124.35" y2="251.60" stroke="#000" stroke-width="0.9" />
<line x1="119.15" y1="289.40" x2="124.35" y2="289.40" stroke="#000" stroke-width="0.9" />
<line x1="77.90" y1="326.60" x2="77.90" y2="329.40" stroke="#000" stroke-width="0.9" />
<line x1="115.50" y1="326.60" x2="115.50" y2="329.40" stroke="#000" stroke-width="0.9" />
<text x="84.25" y="237.80" font-size="9" font-weight="bold" font-style="normal" text-anchor="middle" fill="#000" letter-spacing="0.2">*</text>
<rect x="63.00" y="213.90" width="13.20" height="5.00" fill="#cd011b" stroke="#000" stroke-width="1.0" />
<rect x="63.00" y="222.50" width="13.20" height="5.00" fill="#0836b2" stroke="#000" stroke-width="1.0" />
<text x="78.90" y="219.20" font-size="7.3" font-weight="normal" font-style="normal" text-anchor="start" fill="#000" stroke="#000" stroke-width="0.3" textLength="17.0" lengthAdjust="spacingAndGlyphs">CTRL</text>
<text x="78.90" y="227.70" font-size="7.3" font-weight="normal" font-style="normal" text-anchor="start" fill="#000" stroke="#000" stroke-width="0.3" textLength="19.3" lengthAdjust="spacingAndGlyphs">SDF-1</text>
<text x="27.40" y="344.00" font-size="7.5" font-weight="bold" font-style="normal" text-anchor="start" fill="#000" textLength="34.6" lengthAdjust="spacingAndGlyphs">AMD3100</text>
<text x="77.90" y="342.80" font-size="7.5" font-weight="normal" font-style="normal" text-anchor="middle" fill="#000" >–</text>
<text x="115.80" y="344.30" font-size="9.0" font-weight="bold" font-style="normal" text-anchor="middle" fill="#000" >+</text>
<text x="0.00" y="0.00" font-size="8.6" font-weight="normal" font-style="normal" text-anchor="middle" fill="#000" transform="translate(25.00 267.60) rotate(-90)" textLength="72.5" lengthAdjust="spacingAndGlyphs" stroke="#000" stroke-width="0.12">Relative <tspan font-style="italic">RGS1</tspan> expression</text>
<line x1="182.60" y1="213.40" x2="182.60" y2="326.40" stroke="#000" stroke-width="1.3" />
<line x1="180.00" y1="325.90" x2="182.60" y2="325.90" stroke="#000" stroke-width="1.0" />
<text x="177.30" y="328.60" font-size="7.5" font-weight="bold" font-style="normal" text-anchor="end" fill="#000" >0.000</text>
<line x1="180.00" y1="297.88" x2="182.60" y2="297.88" stroke="#000" stroke-width="1.0" />
<text x="177.30" y="300.57" font-size="7.5" font-weight="bold" font-style="normal" text-anchor="end" fill="#000" >0.005</text>
<line x1="180.00" y1="269.85" x2="182.60" y2="269.85" stroke="#000" stroke-width="1.0" />
<text x="177.30" y="272.55" font-size="7.5" font-weight="bold" font-style="normal" text-anchor="end" fill="#000" >0.010</text>
<line x1="180.00" y1="241.82" x2="182.60" y2="241.82" stroke="#000" stroke-width="1.0" />
<text x="177.30" y="244.52" font-size="7.5" font-weight="bold" font-style="normal" text-anchor="end" fill="#000" >0.015</text>
<line x1="180.00" y1="213.80" x2="182.60" y2="213.80" stroke="#000" stroke-width="1.0" />
<text x="177.30" y="216.50" font-size="7.5" font-weight="bold" font-style="normal" text-anchor="end" fill="#000" >0.020</text>
<line x1="182.00" y1="326.20" x2="257.80" y2="326.20" stroke="#000" stroke-width="1.6" />
<rect x="189.30" y="283.30" width="12.40" height="42.60" fill="#cd011b" stroke="#000" stroke-width="0.9" />
<line x1="195.50" y1="273.50" x2="195.50" y2="293.00" stroke="#000" stroke-width="0.9" />
<line x1="192.90" y1="273.50" x2="198.10" y2="273.50" stroke="#000" stroke-width="0.9" />
<line x1="192.90" y1="293.00" x2="198.10" y2="293.00" stroke="#000" stroke-width="0.9" />
<rect x="201.70" y="257.60" width="12.40" height="68.30" fill="#0836b2" stroke="#000" stroke-width="0.9" />
<line x1="207.90" y1="240.20" x2="207.90" y2="274.60" stroke="#000" stroke-width="0.9" />
<line x1="205.30" y1="240.20" x2="210.50" y2="240.20" stroke="#000" stroke-width="0.9" />
<line x1="205.30" y1="274.60" x2="210.50" y2="274.60" stroke="#000" stroke-width="0.9" />
<rect x="227.20" y="273.50" width="12.10" height="52.40" fill="#cd011b" stroke="#000" stroke-width="0.9" />
<line x1="233.25" y1="265.40" x2="233.25" y2="281.50" stroke="#000" stroke-width="0.9" />
<line x1="230.65" y1="265.40" x2="235.85" y2="265.40" stroke="#000" stroke-width="0.9" />
<line x1="230.65" y1="281.50" x2="235.85" y2="281.50" stroke="#000" stroke-width="0.9" />
<rect x="239.30" y="274.10" width="12.40" height="51.80" fill="#0836b2" stroke="#000" stroke-width="0.9" />
<line x1="245.50" y1="270.20" x2="245.50" y2="278.30" stroke="#000" stroke-width="0.9" />
<line x1="242.90" y1="270.20" x2="248.10" y2="270.20" stroke="#000" stroke-width="0.9" />
<line x1="242.90" y1="278.30" x2="248.10" y2="278.30" stroke="#000" stroke-width="0.9" />
<line x1="201.70" y1="325.90" x2="201.70" y2="328.70" stroke="#000" stroke-width="0.9" />
<line x1="239.30" y1="325.90" x2="239.30" y2="328.70" stroke="#000" stroke-width="0.9" />
<text x="207.90" y="238.60" font-size="9" font-weight="bold" font-style="normal" text-anchor="middle" fill="#000" letter-spacing="0.2">**</text>
<rect x="186.80" y="213.90" width="13.20" height="5.00" fill="#cd011b" stroke="#000" stroke-width="1.0" />
<rect x="186.80" y="222.50" width="13.20" height="5.00" fill="#0836b2" stroke="#000" stroke-width="1.0" />
<text x="202.70" y="219.20" font-size="7.3" font-weight="normal" font-style="normal" text-anchor="start" fill="#000" stroke="#000" stroke-width="0.3" textLength="17.0" lengthAdjust="spacingAndGlyphs">CTRL</text>
<text x="202.70" y="227.70" font-size="7.3" font-weight="normal" font-style="normal" text-anchor="start" fill="#000" stroke="#000" stroke-width="0.3" textLength="19.3" lengthAdjust="spacingAndGlyphs">SDF-1</text>
<text x="150.50" y="344.00" font-size="7.5" font-weight="bold" font-style="normal" text-anchor="start" fill="#000" textLength="36.0" lengthAdjust="spacingAndGlyphs">AMD3100</text>
<text x="201.70" y="342.80" font-size="7.5" font-weight="normal" font-style="normal" text-anchor="middle" fill="#000" >–</text>
<text x="239.60" y="344.30" font-size="9.0" font-weight="bold" font-style="normal" text-anchor="middle" fill="#000" >+</text>
<text x="0.00" y="0.00" font-size="8.6" font-weight="normal" font-style="normal" text-anchor="middle" fill="#000" transform="translate(148.20 267.40) rotate(-90)" textLength="72.5" lengthAdjust="spacingAndGlyphs" stroke="#000" stroke-width="0.12">Relative <tspan font-style="italic">RGS2</tspan> expression</text>
<line x1="311.60" y1="213.20" x2="311.60" y2="326.10" stroke="#000" stroke-width="1.3" />
<line x1="309.00" y1="325.60" x2="311.60" y2="325.60" stroke="#000" stroke-width="1.0" />
<text x="306.30" y="328.30" font-size="7.5" font-weight="bold" font-style="normal" text-anchor="end" fill="#000" >0.0000</text>
<line x1="309.00" y1="303.20" x2="311.60" y2="303.20" stroke="#000" stroke-width="1.0" />
<text x="306.30" y="305.90" font-size="7.5" font-weight="bold" font-style="normal" text-anchor="end" fill="#000" >0.0005</text>
<line x1="309.00" y1="280.80" x2="311.60" y2="280.80" stroke="#000" stroke-width="1.0" />
<text x="306.30" y="283.50" font-size="7.5" font-weight="bold" font-style="normal" text-anchor="end" fill="#000" >0.0010</text>
<line x1="309.00" y1="258.40" x2="311.60" y2="258.40" stroke="#000" stroke-width="1.0" />
<text x="306.30" y="261.10" font-size="7.5" font-weight="bold" font-style="normal" text-anchor="end" fill="#000" >0.0015</text>
<line x1="309.00" y1="236.00" x2="311.60" y2="236.00" stroke="#000" stroke-width="1.0" />
<text x="306.30" y="238.70" font-size="7.5" font-weight="bold" font-style="normal" text-anchor="end" fill="#000" >0.0020</text>
<line x1="309.00" y1="213.60" x2="311.60" y2="213.60" stroke="#000" stroke-width="1.0" />
<text x="306.30" y="216.30" font-size="7.5" font-weight="bold" font-style="normal" text-anchor="end" fill="#000" >0.0025</text>
<line x1="311.00" y1="325.90" x2="386.30" y2="325.90" stroke="#000" stroke-width="1.6" />
<rect x="318.40" y="276.70" width="12.60" height="48.90" fill="#cd011b" stroke="#000" stroke-width="0.9" />
<line x1="324.70" y1="255.80" x2="324.70" y2="297.20" stroke="#000" stroke-width="0.9" />
<line x1="322.10" y1="255.80" x2="327.30" y2="255.80" stroke="#000" stroke-width="0.9" />
<line x1="322.10" y1="297.20" x2="327.30" y2="297.20" stroke="#000" stroke-width="0.9" />
<rect x="331.00" y="261.40" width="12.00" height="64.20" fill="#0836b2" stroke="#000" stroke-width="0.9" />
<line x1="337.00" y1="241.00" x2="337.00" y2="282.00" stroke="#000" stroke-width="0.9" />
<line x1="334.40" y1="241.00" x2="339.60" y2="241.00" stroke="#000" stroke-width="0.9" />
<line x1="334.40" y1="282.00" x2="339.60" y2="282.00" stroke="#000" stroke-width="0.9" />
<rect x="355.60" y="266.50" width="12.90" height="59.10" fill="#cd011b" stroke="#000" stroke-width="0.9" />
<line x1="362.05" y1="235.30" x2="362.05" y2="297.40" stroke="#000" stroke-width="0.9" />
<line x1="359.45" y1="235.30" x2="364.65" y2="235.30" stroke="#000" stroke-width="0.9" />
<line x1="359.45" y1="297.40" x2="364.65" y2="297.40" stroke="#000" stroke-width="0.9" />
<rect x="368.50" y="276.90" width="12.10" height="48.70" fill="#0836b2" stroke="#000" stroke-width="0.9" />
<line x1="374.55" y1="254.20" x2="374.55" y2="299.50" stroke="#000" stroke-width="0.9" />
<line x1="371.95" y1="254.20" x2="377.15" y2="254.20" stroke="#000" stroke-width="0.9" />
<line x1="371.95" y1="299.50" x2="377.15" y2="299.50" stroke="#000" stroke-width="0.9" />
<line x1="331.00" y1="325.60" x2="331.00" y2="328.40" stroke="#000" stroke-width="0.9" />
<line x1="368.50" y1="325.60" x2="368.50" y2="328.40" stroke="#000" stroke-width="0.9" />
<text x="337.00" y="239.80" font-size="9" font-weight="bold" font-style="normal" text-anchor="middle" fill="#000" letter-spacing="0.2">***</text>
<rect x="315.80" y="213.90" width="13.20" height="5.00" fill="#cd011b" stroke="#000" stroke-width="1.0" />
<rect x="315.80" y="222.50" width="13.20" height="5.00" fill="#0836b2" stroke="#000" stroke-width="1.0" />
<text x="331.70" y="219.20" font-size="7.3" font-weight="normal" font-style="normal" text-anchor="start" fill="#000" stroke="#000" stroke-width="0.3" textLength="17.0" lengthAdjust="spacingAndGlyphs">CTRL</text>
<text x="331.70" y="227.70" font-size="7.3" font-weight="normal" font-style="normal" text-anchor="start" fill="#000" stroke="#000" stroke-width="0.3" textLength="19.3" lengthAdjust="spacingAndGlyphs">SDF-1</text>
<text x="280.00" y="344.00" font-size="7.5" font-weight="bold" font-style="normal" text-anchor="start" fill="#000" textLength="35.0" lengthAdjust="spacingAndGlyphs">AMD3100</text>
<text x="331.00" y="342.80" font-size="7.5" font-weight="normal" font-style="normal" text-anchor="middle" fill="#000" >–</text>
<text x="368.80" y="344.30" font-size="9.0" font-weight="bold" font-style="normal" text-anchor="middle" fill="#000" >+</text>
<text x="0.00" y="0.00" font-size="8.6" font-weight="normal" font-style="normal" text-anchor="middle" fill="#000" transform="translate(273.20 265.50) rotate(-90)" textLength="75.4" lengthAdjust="spacingAndGlyphs" stroke="#000" stroke-width="0.12">Relative <tspan font-style="italic">RGS13</tspan> expression</text>
<line x1="436.60" y1="212.10" x2="436.60" y2="325.70" stroke="#000" stroke-width="1.3" />
<line x1="434.00" y1="325.20" x2="436.60" y2="325.20" stroke="#000" stroke-width="1.0" />
<text x="431.30" y="327.90" font-size="7.5" font-weight="bold" font-style="normal" text-anchor="end" fill="#000" >0.000</text>
<line x1="434.00" y1="297.02" x2="436.60" y2="297.02" stroke="#000" stroke-width="1.0" />
<text x="431.30" y="299.72" font-size="7.5" font-weight="bold" font-style="normal" text-anchor="end" fill="#000" >0.005</text>
<line x1="434.00" y1="268.85" x2="436.60" y2="268.85" stroke="#000" stroke-width="1.0" />
<text x="431.30" y="271.55" font-size="7.5" font-weight="bold" font-style="normal" text-anchor="end" fill="#000" >0.010</text>
<line x1="434.00" y1="240.68" x2="436.60" y2="240.68" stroke="#000" stroke-width="1.0" />
<text x="431.30" y="243.38" font-size="7.5" font-weight="bold" font-style="normal" text-anchor="end" fill="#000" >0.015</text>
<line x1="434.00" y1="212.50" x2="436.60" y2="212.50" stroke="#000" stroke-width="1.0" />
<text x="431.30" y="215.20" font-size="7.5" font-weight="bold" font-style="normal" text-anchor="end" fill="#000" >0.020</text>
<line x1="436.00" y1="325.50" x2="511.70" y2="325.50" stroke="#000" stroke-width="1.6" />
<rect x="443.00" y="290.50" width="12.00" height="34.70" fill="#cd011b" stroke="#000" stroke-width="0.9" />
<line x1="449.00" y1="278.90" x2="449.00" y2="302.30" stroke="#000" stroke-width="0.9" />
<line x1="446.40" y1="278.90" x2="451.60" y2="278.90" stroke="#000" stroke-width="0.9" />
<line x1="446.40" y1="302.30" x2="451.60" y2="302.30" stroke="#000" stroke-width="0.9" />
<rect x="455.00" y="260.10" width="12.40" height="65.10" fill="#0836b2" stroke="#000" stroke-width="0.9" />
<line x1="461.20" y1="241.30" x2="461.20" y2="278.10" stroke="#000" stroke-width="0.9" />
<line x1="458.60" y1="241.30" x2="463.80" y2="241.30" stroke="#000" stroke-width="0.9" />
<line x1="458.60" y1="278.10" x2="463.80" y2="278.10" stroke="#000" stroke-width="0.9" />
<rect x="479.50" y="290.20" width="12.70" height="35.00" fill="#cd011b" stroke="#000" stroke-width="0.9" />
<line x1="485.85" y1="279.70" x2="485.85" y2="299.00" stroke="#000" stroke-width="0.9" />
<line x1="483.25" y1="279.70" x2="488.45" y2="279.70" stroke="#000" stroke-width="0.9" />
<line x1="483.25" y1="299.00" x2="488.45" y2="299.00" stroke="#000" stroke-width="0.9" />
<rect x="492.20" y="289.10" width="12.80" height="36.10" fill="#0836b2" stroke="#000" stroke-width="0.9" />
<line x1="498.60" y1="278.10" x2="498.60" y2="299.00" stroke="#000" stroke-width="0.9" />
<line x1="496.00" y1="278.10" x2="501.20" y2="278.10" stroke="#000" stroke-width="0.9" />
<line x1="496.00" y1="299.00" x2="501.20" y2="299.00" stroke="#000" stroke-width="0.9" />
<line x1="455.00" y1="325.20" x2="455.00" y2="328.00" stroke="#000" stroke-width="0.9" />
<line x1="492.20" y1="325.20" x2="492.20" y2="328.00" stroke="#000" stroke-width="0.9" />
<text x="461.20" y="240.20" font-size="9" font-weight="bold" font-style="normal" text-anchor="middle" fill="#000" letter-spacing="0.2">**</text>
<rect x="440.80" y="213.90" width="13.20" height="5.00" fill="#cd011b" stroke="#000" stroke-width="1.0" />
<rect x="440.80" y="222.50" width="13.20" height="5.00" fill="#0836b2" stroke="#000" stroke-width="1.0" />
<text x="456.70" y="219.20" font-size="7.3" font-weight="normal" font-style="normal" text-anchor="start" fill="#000" stroke="#000" stroke-width="0.3" textLength="17.0" lengthAdjust="spacingAndGlyphs">CTRL</text>
<text x="456.70" y="227.70" font-size="7.3" font-weight="normal" font-style="normal" text-anchor="start" fill="#000" stroke="#000" stroke-width="0.3" textLength="19.3" lengthAdjust="spacingAndGlyphs">SDF-1</text>
<text x="404.50" y="344.00" font-size="7.5" font-weight="bold" font-style="normal" text-anchor="start" fill="#000" textLength="35.0" lengthAdjust="spacingAndGlyphs">AMD3100</text>
<text x="455.00" y="342.80" font-size="7.5" font-weight="normal" font-style="normal" text-anchor="middle" fill="#000" >–</text>
<text x="492.50" y="344.30" font-size="9.0" font-weight="bold" font-style="normal" text-anchor="middle" fill="#000" >+</text>
<text x="0.00" y="0.00" font-size="8.6" font-weight="normal" font-style="normal" text-anchor="middle" fill="#000" transform="translate(403.20 265.40) rotate(-90)" textLength="75.2" lengthAdjust="spacingAndGlyphs" stroke="#000" stroke-width="0.12">Relative <tspan font-style="italic">RGS16</tspan> expression</text>
<defs><filter id="bl1" x="-30%" y="-150%" width="160%" height="400%" color-interpolation-filters="sRGB"><feGaussianBlur stdDeviation="0.75"/></filter><filter id="bl2" x="-30%" y="-150%" width="160%" height="400%" color-interpolation-filters="sRGB"><feGaussianBlur stdDeviation="1.6"/></filter><filter id="nz" x="0" y="0" width="100%" height="100%"><feTurbulence type="fractalNoise" baseFrequency="0.22" numOctaves="2" seed="7"/><feColorMatrix type="matrix" values="0 0 0 0 0.25  0 0 0 0 0.3  0 0 0 0 0.3  2.2 0 0 0 -1.0"/></filter><linearGradient id="g13" x1="0" y1="0" x2="1" y2="0"><stop offset="0" stop-color="#cdd4d4"/><stop offset="0.25" stop-color="#dce2e2"/><stop offset="0.6" stop-color="#e1e6e6"/><stop offset="1" stop-color="#e6eaea"/></linearGradient></defs>
<text x="8.90" y="467.90" font-size="9.0" font-weight="bold" font-style="normal" text-anchor="start" fill="#000" >RGS/GAPDH</text>
<rect x="69.60" y="388.60" width="69.60" height="26.60" fill="#eff2f2" stroke="#1a1a1a" stroke-width="1.2" />
<rect x="69.60" y="421.90" width="69.60" height="26.10" fill="#eff2f2" stroke="#1a1a1a" stroke-width="1.2" />
<rect x="69.60" y="454.90" width="69.60" height="19.00" fill="#fff" stroke="#1a1a1a" stroke-width="1.3" />
<line x1="104.00" y1="454.90" x2="104.00" y2="473.90" stroke="#111" stroke-width="2.0" />
<text x="86.40" y="467.60" font-size="8.5" font-weight="bold" font-style="normal" text-anchor="middle" fill="#000" >0.281</text>
<text x="121.50" y="467.60" font-size="8.5" font-weight="bold" font-style="normal" text-anchor="middle" fill="#000" >0.576</text>
<text x="48.90" y="398.80" font-size="8.3" font-weight="bold" font-style="normal" text-anchor="middle" fill="#000" textLength="22.3" lengthAdjust="spacingAndGlyphs">RGS1</text>
<text x="48.90" y="410.30" font-size="8.2" font-weight="normal" font-style="normal" text-anchor="middle" fill="#333" textLength="32.3" lengthAdjust="spacingAndGlyphs">(22kDa)</text>
<text x="48.90" y="431.40" font-size="8.3" font-weight="bold" font-style="normal" text-anchor="middle" fill="#000" textLength="31.0" lengthAdjust="spacingAndGlyphs">GAPDH</text>
<text x="48.90" y="442.10" font-size="8.2" font-weight="normal" font-style="normal" text-anchor="middle" fill="#333" textLength="32.3" lengthAdjust="spacingAndGlyphs">(37kDa)</text>
<text x="92.00" y="385.20" font-size="8.9" font-weight="bold" font-style="normal" text-anchor="start" fill="#000" transform="rotate(-45 92.00 385.2)">CTRL</text>
<text x="116.50" y="385.20" font-size="8.9" font-weight="bold" font-style="normal" text-anchor="start" fill="#000" transform="rotate(-45 116.50 385.2)">SDF-1</text>
<rect x="193.40" y="388.60" width="69.60" height="26.60" fill="#e8ecec" stroke="#1a1a1a" stroke-width="1.2" />
<rect x="193.40" y="421.90" width="69.60" height="26.10" fill="#eaeeee" stroke="#1a1a1a" stroke-width="1.2" />
<rect x="193.40" y="454.90" width="69.60" height="19.00" fill="#fff" stroke="#1a1a1a" stroke-width="1.3" />
<line x1="227.80" y1="454.90" x2="227.80" y2="473.90" stroke="#111" stroke-width="2.0" />
<text x="210.20" y="467.60" font-size="8.5" font-weight="bold" font-style="normal" text-anchor="middle" fill="#000" >0.424</text>
<text x="245.30" y="467.60" font-size="8.5" font-weight="bold" font-style="normal" text-anchor="middle" fill="#000" >0.464</text>
<text x="172.60" y="398.80" font-size="8.3" font-weight="bold" font-style="normal" text-anchor="middle" fill="#000" textLength="23.7" lengthAdjust="spacingAndGlyphs">RGS2</text>
<text x="172.60" y="410.30" font-size="8.2" font-weight="normal" font-style="normal" text-anchor="middle" fill="#333" textLength="32.3" lengthAdjust="spacingAndGlyphs">(32kDa)</text>
<text x="172.60" y="431.40" font-size="8.3" font-weight="bold" font-style="normal" text-anchor="middle" fill="#000" textLength="31.0" lengthAdjust="spacingAndGlyphs">GAPDH</text>
<text x="172.60" y="442.10" font-size="8.2" font-weight="normal" font-style="normal" text-anchor="middle" fill="#333" textLength="32.3" lengthAdjust="spacingAndGlyphs">(37kDa)</text>
<text x="214.80" y="385.20" font-size="8.9" font-weight="bold" font-style="normal" text-anchor="start" fill="#000" transform="rotate(-45 214.80 385.2)">CTRL</text>
<text x="238.80" y="385.20" font-size="8.9" font-weight="bold" font-style="normal" text-anchor="start" fill="#000" transform="rotate(-45 238.80 385.2)">SDF-1</text>
<rect x="317.30" y="388.60" width="69.60" height="26.60" fill="url(#g13)" stroke="#1a1a1a" stroke-width="1.2" />
<rect x="317.90" y="389.2" width="68.40" height="25.4" filter="url(#nz)" opacity="0.4"/>
<rect x="317.30" y="421.90" width="69.60" height="26.10" fill="#f1f4f4" stroke="#1a1a1a" stroke-width="1.2" />
<rect x="317.30" y="454.90" width="69.60" height="19.00" fill="#fff" stroke="#1a1a1a" stroke-width="1.3" />
<line x1="351.70" y1="454.90" x2="351.70" y2="473.90" stroke="#111" stroke-width="2.0" />
<text x="334.10" y="467.60" font-size="8.5" font-weight="bold" font-style="normal" text-anchor="middle" fill="#000" >0.416</text>
<text x="369.20" y="467.60" font-size="8.5" font-weight="bold" font-style="normal" text-anchor="middle" fill="#000" >0.589</text>
<text x="298.80" y="398.80" font-size="8.3" font-weight="bold" font-style="normal" text-anchor="middle" fill="#000" textLength="28.2" lengthAdjust="spacingAndGlyphs">RGS13</text>
<text x="298.80" y="410.30" font-size="8.2" font-weight="normal" font-style="normal" text-anchor="middle" fill="#333" textLength="32.3" lengthAdjust="spacingAndGlyphs">(19kDa)</text>
<text x="298.80" y="431.40" font-size="8.3" font-weight="bold" font-style="normal" text-anchor="middle" fill="#000" textLength="31.0" lengthAdjust="spacingAndGlyphs">GAPDH</text>
<text x="298.80" y="442.10" font-size="8.2" font-weight="normal" font-style="normal" text-anchor="middle" fill="#333" textLength="32.3" lengthAdjust="spacingAndGlyphs">(37kDa)</text>
<text x="339.70" y="385.20" font-size="8.9" font-weight="bold" font-style="normal" text-anchor="start" fill="#000" transform="rotate(-45 339.70 385.2)">CTRL</text>
<text x="364.20" y="385.20" font-size="8.9" font-weight="bold" font-style="normal" text-anchor="start" fill="#000" transform="rotate(-45 364.20 385.2)">SDF-1</text>
<rect x="441.30" y="388.60" width="69.60" height="26.60" fill="#e9eded" stroke="#1a1a1a" stroke-width="1.2" />
<rect x="441.30" y="421.90" width="69.60" height="26.10" fill="#e9eded" stroke="#1a1a1a" stroke-width="1.2" />
<rect x="441.30" y="454.90" width="69.60" height="19.00" fill="#fff" stroke="#1a1a1a" stroke-width="1.3" />
<line x1="475.70" y1="454.90" x2="475.70" y2="473.90" stroke="#111" stroke-width="2.0" />
<text x="458.10" y="467.60" font-size="8.5" font-weight="bold" font-style="normal" text-anchor="middle" fill="#000" >0.390</text>
<text x="493.20" y="467.60" font-size="8.5" font-weight="bold" font-style="normal" text-anchor="middle" fill="#000" >0.471</text>
<text x="421.20" y="398.80" font-size="8.3" font-weight="bold" font-style="normal" text-anchor="middle" fill="#000" textLength="28.6" lengthAdjust="spacingAndGlyphs">RGS16</text>
<text x="421.20" y="410.30" font-size="8.2" font-weight="normal" font-style="normal" text-anchor="middle" fill="#333" textLength="32.3" lengthAdjust="spacingAndGlyphs">(23kDa)</text>
<text x="421.20" y="431.40" font-size="8.3" font-weight="bold" font-style="normal" text-anchor="middle" fill="#000" textLength="31.0" lengthAdjust="spacingAndGlyphs">GAPDH</text>
<text x="421.20" y="442.10" font-size="8.2" font-weight="normal" font-style="normal" text-anchor="middle" fill="#333" textLength="32.3" lengthAdjust="spacingAndGlyphs">(37kDa)</text>
<text x="463.70" y="385.20" font-size="8.9" font-weight="bold" font-style="normal" text-anchor="start" fill="#000" transform="rotate(-45 463.70 385.2)">CTRL</text>
<text x="488.20" y="385.20" font-size="8.9" font-weight="bold" font-style="normal" text-anchor="start" fill="#000" transform="rotate(-45 488.20 385.2)">SDF-1</text>
<path d="M81.50 401.50 Q83.50 400.40 85.50 400.40 L88.00 400.40 Q90.00 400.40 92.00 401.50 Q90.00 402.60 88.00 402.60 L85.50 402.60 Q83.50 402.60 81.50 401.50 Z" fill="#000" opacity="0.35" filter="url(#bl1)"/>
<path d="M84.50 401.50 Q86.50 400.00 88.50 400.00 L96.40 400.00 Q98.40 400.00 100.40 401.50 Q98.40 403.00 96.40 403.00 L88.50 403.00 Q86.50 403.00 84.50 401.50 Z" fill="#000" opacity="1.0" filter="url(#bl1)"/>
<path d="M106.20 402.30 Q108.20 400.10 110.20 400.10 L120.60 400.10 Q122.60 400.10 124.60 402.30 Q122.60 404.50 120.60 404.50 L110.20 404.50 Q108.20 404.50 106.20 402.30 Z" fill="#000" opacity="1.0" filter="url(#bl1)"/>
<path d="M80.5 430.4 Q92 430.8 104.5 432.7 L104.5 437.3 Q92 437.1 80.5 436.7 Q77.0 433.6 80.5 430.4 Z" fill="#000" opacity="1.0" filter="url(#bl1)"/>
<path d="M103.5 432.9 L127.0 433.1 Q130.2 435.6 127.0 438.1 L103.5 437.9 Z" fill="#000" opacity="1.0" filter="url(#bl1)"/>
<path d="M205.00 401.80 Q207.50 399.95 210.00 399.95 L218.60 399.95 Q221.10 399.95 223.60 401.80 Q221.10 403.65 218.60 403.65 L210.00 403.65 Q207.50 403.65 205.00 401.80 Z" fill="#000" opacity="1.0" filter="url(#bl1)"/>
<path d="M230.10 402.10 Q232.60 400.15 235.10 400.15 L245.20 400.15 Q247.70 400.15 250.20 402.10 Q247.70 404.05 245.20 404.05 L235.10 404.05 Q232.60 404.05 230.10 402.10 Z" fill="#000" opacity="1.0" filter="url(#bl1)"/>
<path d="M201.60 435.20 Q203.10 432.10 204.60 432.10 L224.20 432.10 Q225.70 432.10 227.20 435.20 Q225.70 438.30 224.20 438.30 L204.60 438.30 Q203.10 438.30 201.60 435.20 Z" fill="#000" opacity="1.0" filter="url(#bl1)"/>
<path d="M225.80 435.60 Q227.30 432.50 228.80 432.50 L250.60 432.50 Q252.10 432.50 253.60 435.60 Q252.10 438.70 250.60 438.70 L228.80 438.70 Q227.30 438.70 225.80 435.60 Z" fill="#000" opacity="1.0" filter="url(#bl1)"/>
<path d="M330.30 401.10 Q333.80 399.30 337.30 399.30 L344.60 399.30 Q348.10 399.30 351.60 401.10 Q348.10 402.90 344.60 402.90 L337.30 402.90 Q333.80 402.90 330.30 401.10 Z" fill="#000" opacity="1.0" filter="url(#bl1)"/>
<path d="M351.80 401.60 Q354.80 399.30 357.80 399.30 L365.00 399.30 Q368.00 399.30 371.00 401.60 Q368.00 403.90 365.00 403.90 L357.80 403.90 Q354.80 403.90 351.80 401.60 Z" fill="#000" opacity="1.0" filter="url(#bl1)"/>
<rect x="357.0" y="402" width="1.6" height="4.8" rx="0.8" fill="#000" filter="url(#bl1)"/>
<circle cx="334.8" cy="393.1" r="1.2" fill="#000" filter="url(#bl1)"/>
<circle cx="338.9" cy="404.8" r="0.7" fill="#333" opacity="0.6" filter="url(#bl1)"/>
<circle cx="339.5" cy="408.9" r="0.7" fill="#333" opacity="0.5" filter="url(#bl1)"/>
<circle cx="367.1" cy="393.4" r="0.8" fill="#333" opacity="0.35" filter="url(#bl1)"/>
<path d="M328.3 432.0 L354 432.4 L375.2 433.2 Q378.0 436.2 375.2 439.4 L354 439.0 L328.3 438.4 Q325.2 435.2 328.3 432.0 Z" fill="#000" opacity="1.0" filter="url(#bl1)"/>
<defs><linearGradient id="sm" x1="0" y1="0" x2="0" y2="1"><stop offset="0" stop-color="#000" stop-opacity="0.22"/><stop offset="1" stop-color="#000" stop-opacity="0"/></linearGradient></defs>
<rect x="457" y="393" width="14.5" height="14" fill="url(#sm)" filter="url(#bl2)"/>
<rect x="479.5" y="394" width="16.5" height="14" fill="url(#sm)" filter="url(#bl2)"/>
<path d="M456.60 392.70 Q458.60 390.30 460.60 390.30 L466.80 390.30 Q468.80 390.30 470.80 392.70 Q468.80 395.10 466.80 395.10 L460.60 395.10 Q458.60 395.10 456.60 392.70 Z" fill="#000" opacity="1.0" filter="url(#bl1)"/>
<path d="M479.30 394.00 Q481.30 391.30 483.30 391.30 L491.60 391.30 Q493.60 391.30 495.60 394.00 Q493.60 396.70 491.60 396.70 L483.30 396.70 Q481.30 396.70 479.30 394.00 Z" fill="#000" opacity="1.0" filter="url(#bl1)"/>
<path d="M452.8 430.9 L476 431.6 L499 432.2 Q502.0 435.2 499 438.2 L476 438.0 L452.8 437.6 Q450.0 434.2 452.8 430.9 Z" fill="#000" opacity="1.0" filter="url(#bl1)"/>
<rect x="0.5" y="0.5" width="518.4" height="481.4" fill="none" stroke="#000" stroke-width="1.2"/>
<rect x="518.6" y="0" width="1.4" height="483" fill="#000"/>
<rect x="0" y="481.6" width="520" height="1.4" fill="#000"/>
</svg>
</body></html>
